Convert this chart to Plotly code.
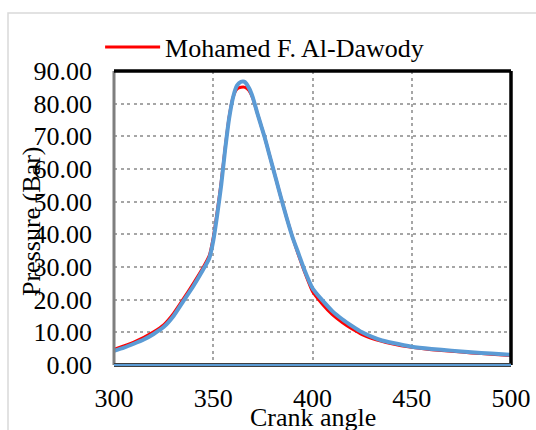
import plotly.graph_objects as go

# Crank angle (deg) and cylinder pressure (bar)
angle_blue = [300, 305, 310, 315, 320, 325, 330, 335, 340, 345, 348, 350, 352, 354,
              356, 358, 360, 362, 364, 365, 366, 368, 370, 372, 374, 376, 378, 380,
              382, 384, 387, 390, 393, 396, 400, 402, 405, 410, 415, 420, 425, 430,
              435, 440, 450, 460, 470, 480, 490, 500]
pressure_blue = [4.3, 5.3, 6.5, 7.8, 9.5, 11.6, 15.0, 19.6, 24.2, 29.3, 32.7, 38.0, 46.0, 55.0,
                 66.0, 75.5, 82.0, 85.6, 86.7, 86.8, 86.6, 84.8, 81.8, 77.5, 73.5, 69.5, 65.0, 60.5,
                 56.0, 51.5, 45.0, 39.0, 34.0, 29.0, 23.5, 21.9, 19.8, 16.5, 14.0, 11.9, 10.0, 8.6,
                 7.5, 6.8, 5.6, 4.9, 4.4, 3.9, 3.5, 3.1]

angle_red = [300, 310, 320, 325, 330, 335, 340, 345, 348, 350, 352, 354, 356, 358, 360,
             362, 364, 366, 368, 370, 372, 374, 376, 378, 380, 382, 384, 387, 390, 393,
             396, 400, 405, 410, 415, 420, 425, 430, 440, 450, 460, 470, 480, 490, 500]
pressure_red = [4.8, 7.0, 10.2, 12.3, 15.8, 20.3, 25.0, 30.0, 33.5, 39.0, 47.0, 56.0, 66.5, 76.0, 82.0,
                84.5, 85.0, 85.0, 84.0, 81.5, 77.5, 73.5, 69.5, 65.0, 60.5, 56.0, 51.5, 45.0, 39.0, 33.5,
                28.5, 22.5, 18.6, 15.4, 13.0, 11.0, 9.3, 8.1, 6.5, 5.4, 4.7, 4.2, 3.7, 3.3, 2.9]

x_ticks = [300, 350, 400, 450, 500]
y_ticks = [0, 10, 20, 30, 40, 50, 60, 70, 80, 90]

FONT = "Liberation Serif"
TXT = dict(family=FONT, size=26, color="#000000")

fig = go.Figure()
fig.add_trace(go.Scatter(x=angle_red, y=pressure_red, mode="lines",
                         name="Mohamed F. Al-Dawody",
                         line=dict(color="#ff0000", width=3, shape="spline", smoothing=0.5)))
fig.add_trace(go.Scatter(x=angle_blue, y=pressure_blue, mode="lines",
                         name="Present study", showlegend=False,
                         line=dict(color="#5b9bd5", width=4, shape="spline", smoothing=0.5)))

grid = dict(showgrid=True, gridcolor="#a6a6a6", gridwidth=2, griddash="3px,3.5px",
            zeroline=False, showline=False, automargin=False)

fig.update_xaxes(range=[300, 500], tickvals=x_ticks, ticktext=[str(v) for v in x_ticks],
                 tickfont=TXT, ticks="", ticklabelstandoff=15, **grid)
fig.update_yaxes(range=[0, 90], tickvals=y_ticks, ticktext=[f"{v:.2f}" for v in y_ticks],
                 tickfont=TXT, ticks="", ticklabelstandoff=21, **grid)

shapes = [
    # outer chart border
    dict(type="rect", xref="paper", yref="paper", x0=-0.267, y0=-0.6, x1=1.3, y1=(365 - 13) / 294,
         line=dict(color="#d9d9d9", width=1.5), layer="below"),
    # plot area borders
    dict(type="line", xref="paper", yref="paper", x0=0, x1=0, y0=0, y1=1,
         line=dict(color="#7f7f7f", width=3), layer="above"),
    dict(type="line", xref="paper", yref="paper", x0=0, x1=1, y0=1, y1=1,
         line=dict(color="#000000", width=3.5), layer="above"),
    dict(type="line", xref="paper", yref="paper", x0=1, x1=1, y0=0, y1=1,
         line=dict(color="#000000", width=3.5), layer="above"),
    dict(type="line", xref="paper", yref="paper", x0=0, x1=1, y0=0, y1=0,
         line=dict(color="#404040", width=4), layer="above"),
    dict(type="line", xref="paper", yref="paper", x0=0, x1=1, y0=0, y1=0,
         line=dict(color="#5b9bd5", width=2), layer="above"),
]

fig.update_layout(
    template="none",
    width=536, height=430,
    margin=dict(l=114, r=25, t=71, b=65, autoexpand=False),
    paper_bgcolor="white", plot_bgcolor="white",
    font=TXT,
    showlegend=True,
    legend=dict(x=-0.035, y=(365 - 47) / 294, xanchor="left", yanchor="middle",
                font=TXT, bgcolor="rgba(0,0,0,0)", borderwidth=0, itemwidth=55),
    shapes=shapes,
    annotations=[
        dict(text="Pressure (Bar)", textangle=-90, xref="paper", yref="paper",
             x=(31 - 114) / 397, y=(365 - 222) / 294, xanchor="center",
             yanchor="middle", showarrow=False, font=TXT),
        dict(text="Crank angle", xref="paper", yref="paper",
             x=(313 - 114) / 397, y=(365 - 401) / 294, xanchor="center",
             yanchor="top", showarrow=False, font=TXT),
    ],
)

fig.write_html("out.html")
